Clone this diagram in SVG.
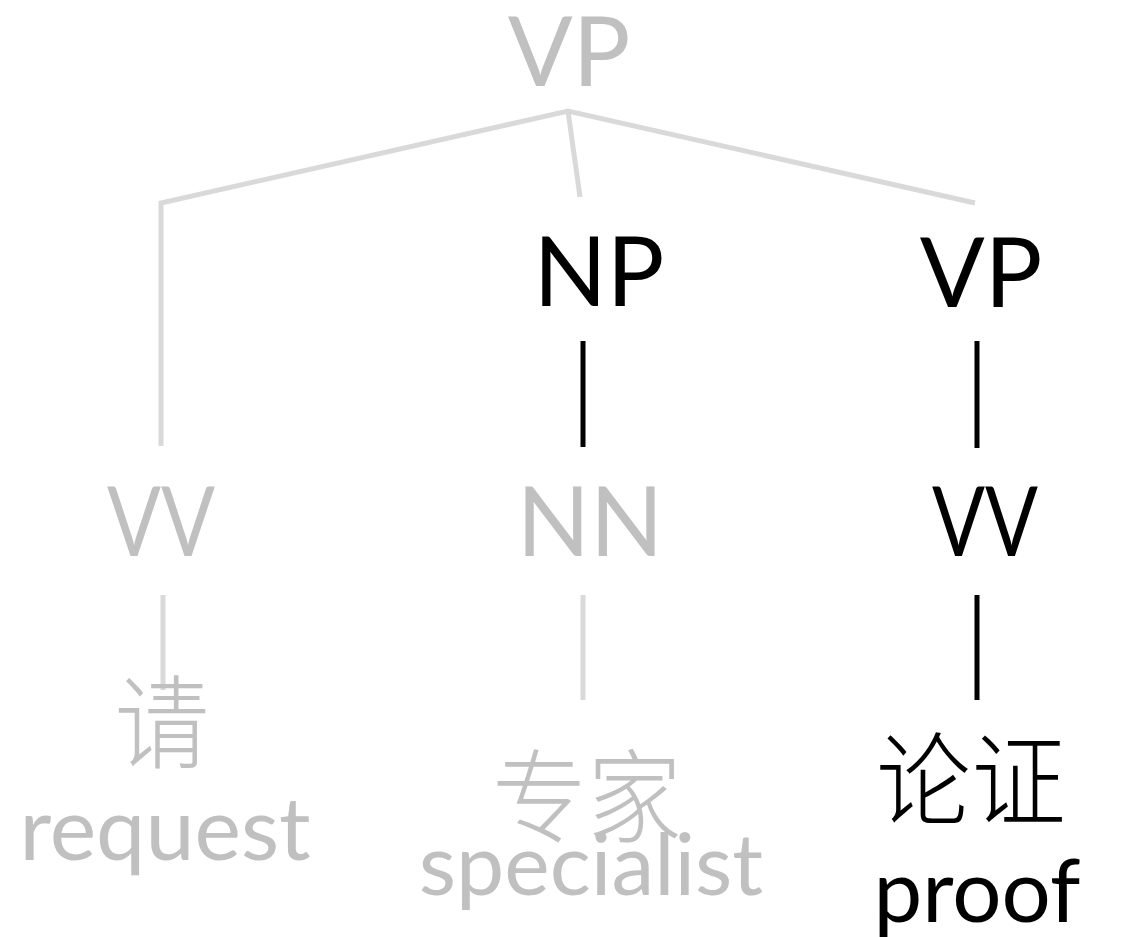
<svg xmlns="http://www.w3.org/2000/svg" width="1121" height="937" viewBox="0 0 1121 937">
<style>
.lbl{font-family:Lato,"Noto Sans",sans-serif;font-size:96px;text-anchor:middle}
.word{font-family:Lato,"Noto Sans",sans-serif;font-size:87px;text-anchor:middle}
.cjk{font-family:"Noto Sans CJK SC",sans-serif;font-size:95px;text-anchor:middle;font-weight:300}
.g{fill:#c0c0c0}
.k{fill:#000000}
.gl{stroke:#d9d9d9;stroke-width:5;fill:none}
.kl{stroke:#000000;stroke-width:5;fill:none}
</style>
<rect width="1121" height="937" fill="#ffffff"/>
<g id="connectors">
<polyline class="gl" points="161,446 161,203 568,111 975,203"/>
<line class="gl" x1="568" y1="111" x2="580" y2="197"/>
<line class="kl" x1="583" y1="341" x2="583" y2="447"/>
<line class="kl" x1="977" y1="341" x2="977" y2="448"/>
<line class="gl" x1="163" y1="595" x2="163" y2="690"/>
<line class="gl" x1="583" y1="595" x2="583" y2="700"/>
<line class="kl" x1="977" y1="595" x2="977" y2="700"/>
</g>
<g id="vp-top"><text class="lbl g" x="569" y="86">VP</text></g>
<g id="np"><text class="lbl k" x="599" y="306">NP</text></g>
<g id="vp-right"><text class="lbl k" x="981" y="307">VP</text></g>
<g id="vv-left"><text class="lbl g" x="161" y="556" textLength="108" lengthAdjust="spacingAndGlyphs">VV</text></g>
<g id="nn"><text class="lbl g" x="590" y="556">NN</text></g>
<g id="vv-right"><text class="lbl k" x="985" y="556" textLength="106" lengthAdjust="spacingAndGlyphs">VV</text></g>
<g id="qing"><text class="cjk g" transform="translate(162,761) scale(1,1.08)">请</text><text class="word g" x="165" y="860" style="font-size:88px">request</text></g>
<g id="zhuanjia"><text class="cjk g" transform="translate(587,835) scale(1,1.08)">专家</text><text class="word g" x="591" y="895" style="font-size:86px">specialist</text></g>
<g id="lunzheng"><text class="cjk k" transform="translate(971,818) scale(1,1.08)">论证</text><text class="word k" x="977" y="922">proof</text></g>
</svg>
